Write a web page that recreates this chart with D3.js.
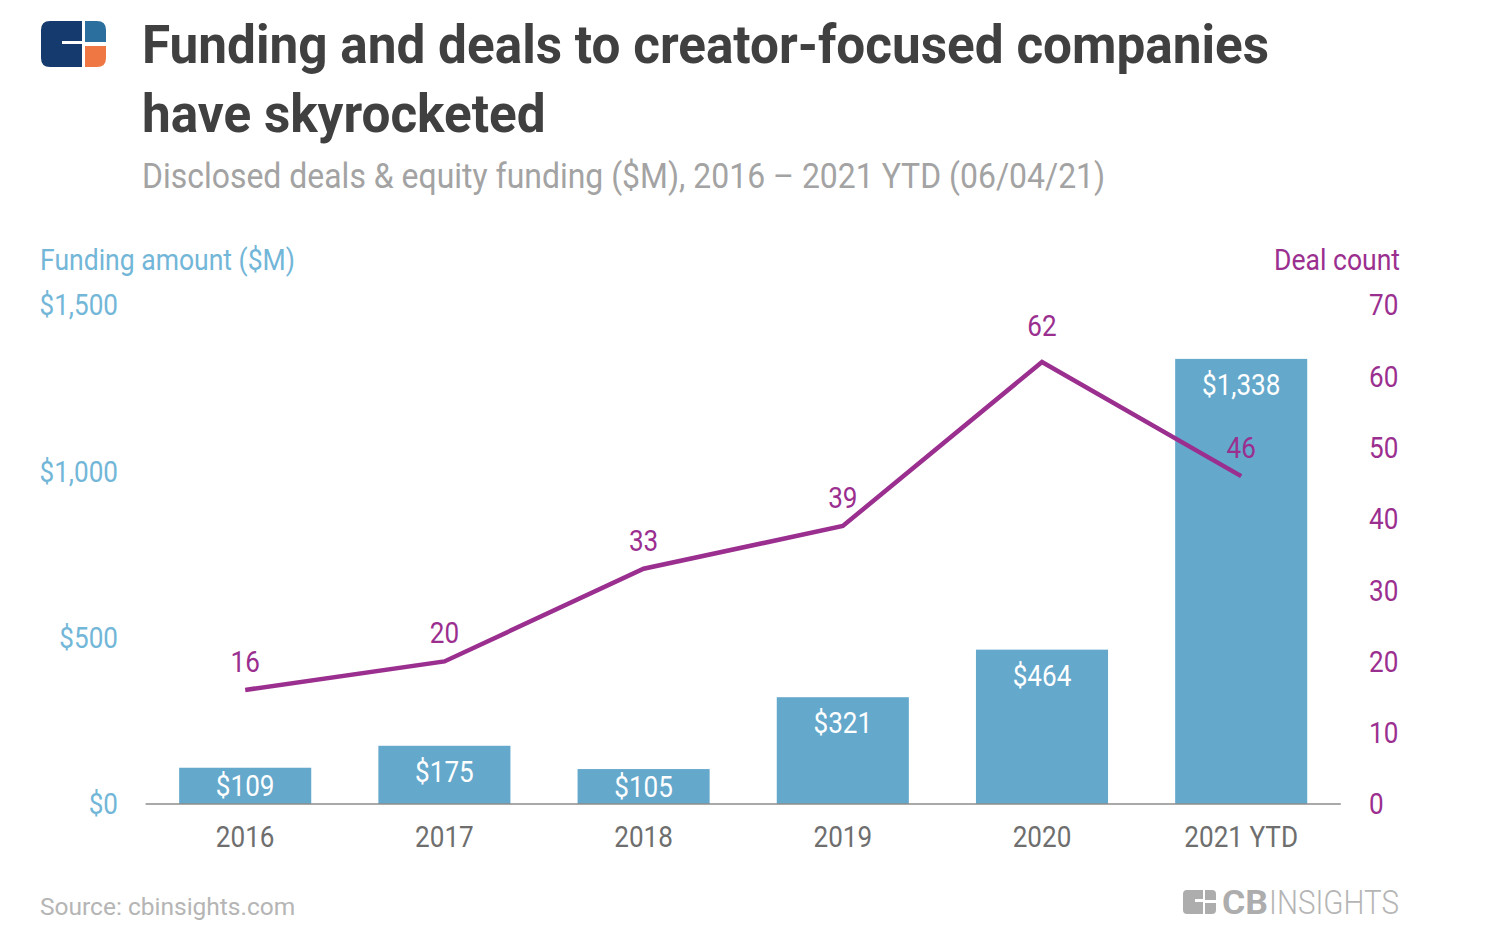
<!DOCTYPE html>
<html>
<head>
<meta charset="UTF-8">
<title>Funding and deals to creator-focused companies</title>
<script src="https://d3js.org/d3.v7.min.js"></script>
<style>
 body { margin: 0; background: #fff; }
 text { font-family: Roboto, sans-serif; }
</style>
</head>
<body>
<script>
var years = ["2016", "2017", "2018", "2019", "2020", "2021 YTD"];
var funding = [109, 175, 105, 321, 464, 1338];
var deals = [16, 20, 33, 39, 62, 46];
var fundingTicks = [0, 500, 1000, 1500];
var dealTicks = [0, 10, 20, 30, 40, 50, 60, 70];

var BLUE = "#64a8cc", LIGHT = "#72b6d8", PURPLE = "#9b2f8f", SQUEEZE = 0.9;

var svg = d3.select("body").append("svg").attr("width", 1488).attr("height", 928);

var x = d3.scaleBand().domain(years).range([145.6, 1340.8]).paddingInner(0.337).paddingOuter(0.1685);
var yLeft = d3.scaleLinear().domain([0, 1500]).range([804, 305]);
var yRight = d3.scaleLinear().domain([0, 70]).range([804, 305]);
var cx = function (d) { return x(d) + x.bandwidth() / 2; };

// roboto squeezed sideways, the original uses a condensed cut
function label(px, py, str, size, color, anchor, weight, squeeze) {
  return svg.append("text")
    .attr("transform", "translate(" + px + "," + py + ") scale(" + (squeeze || SQUEEZE) + ",1)")
    .attr("font-size", size).attr("fill", color)
    .attr("text-anchor", anchor || "start").attr("font-weight", weight || 400)
    .text(str);
}

function styleAxis(g, color) {
  g.select(".domain").remove();
  g.selectAll(".tick line").remove();
  g.selectAll("text").attr("x", 0).attr("dy", "0.36em")
    .attr("transform", "scale(" + SQUEEZE + ",1)")
    .attr("font-family", "Roboto").attr("font-size", 29).attr("fill", color);
}

// logo
svg.append("path").attr("fill", "#143a6e").attr("d", "M50 21H82V41H62V44H82V67H50Q41 67 41 58V30Q41 21 50 21Z");
svg.append("path").attr("fill", "#2b6f9f").attr("d", "M85 21H97Q106 21 106 30V42H85Z");
svg.append("path").attr("fill", "#ef7743").attr("d", "M85 46H106V58Q106 67 97 67H85Z");

label(142, 63, "Funding and deals to creator-focused companies", 53, "#404040", "start", 700, 0.968);
label(142, 132, "have skyrocketed", 53, "#404040", "start", 700, 0.968);
label(142, 188, "Disclosed deals & equity funding ($M), 2016 \u2013 2021 YTD (06/04/21)", 35, "#a3a3a3", "start", 400, 0.913);

label(40, 270, "Funding amount ($M)", 29.5, LIGHT);
label(1400, 270, "Deal count", 29.5, PURPLE, "end");

svg.append("g").attr("transform", "translate(118,0)")
  .call(d3.axisLeft(yLeft).tickValues(fundingTicks).tickFormat(function (d) { return "$" + d3.format(",")(d); }).offset(0))
  .call(styleAxis, LIGHT);

svg.append("g").attr("transform", "translate(1369,0)")
  .call(d3.axisRight(yRight).tickValues(dealTicks).offset(0))
  .call(styleAxis, PURPLE);

svg.append("g").selectAll("rect").data(years).enter().append("rect")
  .attr("x", function (d) { return x(d); })
  .attr("y", function (d, i) { return yLeft(funding[i]); })
  .attr("width", x.bandwidth())
  .attr("height", function (d, i) { return yLeft(0) - yLeft(funding[i]); })
  .attr("fill", BLUE);

var xAxis = svg.append("g").attr("transform", "translate(0,804)")
  .call(d3.axisBottom(x).tickSize(0).offset(0));
xAxis.select(".domain").attr("stroke", "#8c8c8c").attr("stroke-width", 1.5);
xAxis.selectAll("text").attr("x", 0).attr("y", 33).attr("dy", "0.36em")
  .attr("transform", "scale(" + SQUEEZE + ",1)")
  .attr("font-family", "Roboto").attr("font-size", 29).attr("fill", "#6e6e6e");

// value labels sit near the bar top, short bars get them centred
funding.forEach(function (v, i) {
  var h = yLeft(0) - yLeft(v);
  label(cx(years[i]), yLeft(v) + Math.min(26, h / 2) + 10, "$" + d3.format(",")(v), 29, "#fff", "middle");
});

var line = d3.line().x(function (d, i) { return cx(years[i]); }).y(function (d) { return yRight(d); });
svg.append("path").datum(deals).attr("d", line)
  .attr("fill", "none").attr("stroke", PURPLE).attr("stroke-width", 4.5);

deals.forEach(function (v, i) {
  label(cx(years[i]), yRight(v) - (v == d3.max(deals) ? 26 : 18), v, 29, PURPLE, "middle");
});

label(40, 915, "Source: cbinsights.com", 24.5, "#b5b5b5").attr("transform", "translate(40,915)");

// cb insights wordmark
var mark = svg.append("g").attr("fill", "#adadad");
mark.append("path").attr("d", "M1187 890H1203V899H1195V902H1203V914H1187Q1183 914 1183 910V894Q1183 890 1187 890Z");
mark.append("path").attr("d", "M1205 890H1212Q1216 890 1216 894V900H1205ZM1205 903H1216V910Q1216 914 1212 914H1205Z");
svg.append("text").attr("x", 1222).attr("y", 914).attr("font-size", 33).attr("font-weight", 700).attr("fill", "#adadad")
  .attr("textLength", 46).attr("lengthAdjust", "spacingAndGlyphs").text("CB");
svg.append("text").attr("x", 1269).attr("y", 914).attr("font-size", 33).attr("font-weight", 300).attr("fill", "#b5b5b5")
  .attr("textLength", 130).attr("lengthAdjust", "spacingAndGlyphs").text("INSIGHTS");
</script>
</body>
</html>
